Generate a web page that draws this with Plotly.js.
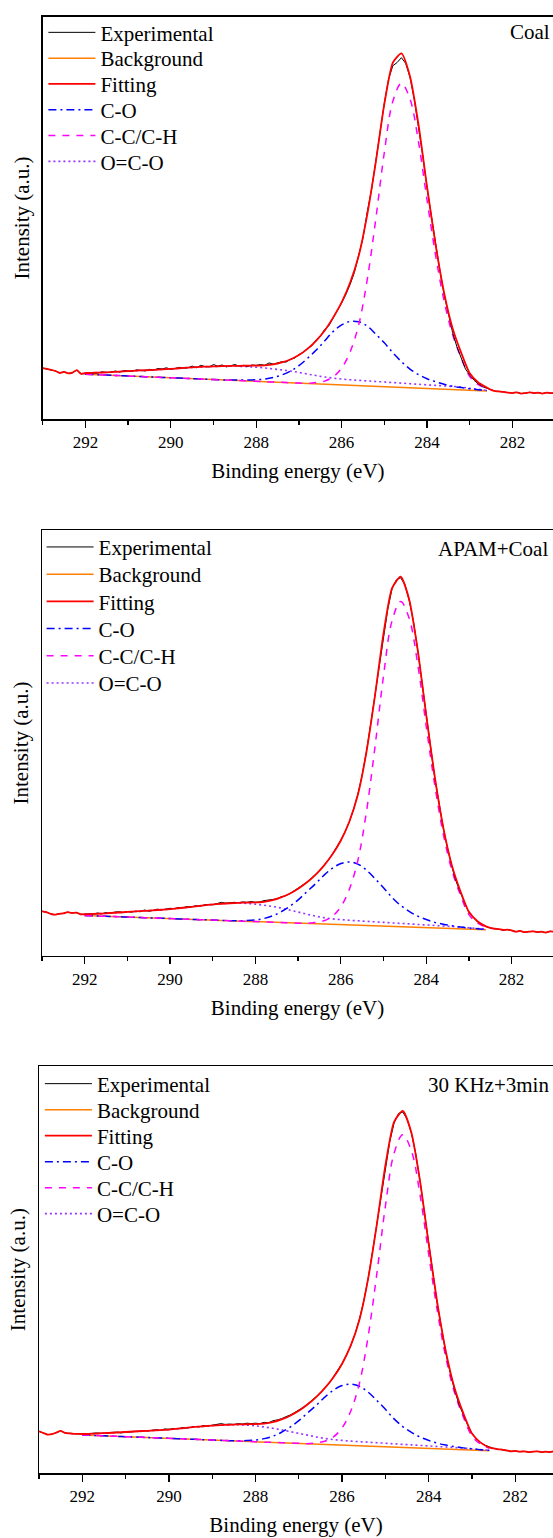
<!DOCTYPE html>
<html>
<head>
<meta charset="utf-8">
<script src="https://cdn.plot.ly/plotly-3.0.1.min.js"></script>
<style>html,body{margin:0;padding:0;background:#fff;overflow:hidden}#chart{width:553px;height:1538px}</style>
</head>
<body>
<div id="chart"></div>
<script>
// ---------- energy grids (binding energy, eV) ----------
function seq(a, b, step) {
  const n = Math.round(Math.abs(b - a) / step), s = b > a ? 1 : -1, out = [];
  for (let i = 0; i <= n; i++) out.push(+(a + s * i * step).toFixed(2));
  return out;
}
const energyExp = seq(293, 281, 0.1);
const energyComp = seq(292, 282.6, 0.2);
const energyFit = seq(293, 292.1, 0.1).concat(energyComp, seq(282.5, 281, 0.1));

const sampleLabels = ['Coal', 'APAM+Coal', '30 KHz+3min'];
const seriesNames = ['Experimental', 'Background', 'Fitting', 'C-O', 'C-C/C-H', 'O=C-O'];
const tickValues = [292, 290, 288, 286, 284, 282];

// ---------- Panel 1: Coal ----------
const coalExp = [12.7,12.5,12.3,12.0,11.5,11.8,11.4,11.6,12.2,11.3,
11.3,11.6,11.4,11.5,11.8,11.6,11.7,12.0,11.7,12.1,
12.0,11.9,12.3,12.1,12.0,12.4,12.2,12.6,12.5,12.8,
12.4,12.6,12.9,12.7,12.8,13.2,12.8,13.4,13.1,13.0,
13.6,13.2,13.5,13.0,13.3,13.6,13.2,13.4,13.1,13.5,
13.4,13.6,13.4,14.0,13.7,14.0,14.3,14.2,14.9,15.2,
16.1,16.6,17.6,18.2,19.7,20.6,22.3,23.2,25.0,27.0,
28.9,31.0,33.5,36.5,40.5,45.0,51.5,57.0,64.0,71.5,
78.5,84.5,87.8,88.6,89.8,88.4,85.0,79.5,73.0,65.5,
57.5,50.3,43.0,37.0,31.0,26.0,21.5,18.0,15.0,12.5,
11.0,9.7,8.8,8.1,7.7,7.3,7.0,6.9,6.8,6.6,
6.5,6.7,6.4,6.5,6.7,6.5,6.6,6.4,6.6,6.5,
6.5];
const coalFit = [12.7,12.5,12.3,12.0,11.5,11.8,11.4,11.6,12.2,11.3,
11.50,11.56,11.62,11.73,11.85,11.96,12.07,12.18,12.29,12.40,
12.52,12.68,12.84,12.95,13.06,13.12,13.18,13.28,13.29,13.31,
13.33,13.38,13.62,14.11,14.86,15.96,17.49,19.48,22.00,25.25,
29.03,33.96,40.61,50.84,63.88,78.28,88.57,90.88,85.21,73.22,
57.77,43.40,31.39,22.54,16.50,11.42,9.15,7.89,
7.3,7.0,6.9,6.8,6.6,6.5,6.7,6.4,6.5,6.7,6.5,6.6,6.4,6.6,6.5,6.5];
const coalBg = [11.20,11.11,11.02,10.93,10.85,10.76,10.67,10.58,10.49,10.40,
10.32,10.23,10.14,10.05,9.96,9.87,9.78,9.70,9.61,9.52,
9.43,9.34,9.25,9.17,9.08,8.99,8.90,8.81,8.72,8.64,
8.55,8.46,8.37,8.28,8.19,8.11,8.02,7.93,7.84,7.75,
7.66,7.57,7.49,7.40,7.31,7.22,7.13,7.04];
const coalOCO = [11.50,11.56,11.62,11.73,11.85,11.96,12.07,12.18,12.29,12.40,
12.52,12.68,12.84,12.95,13.06,13.12,13.18,13.20,13.16,13.07,
12.93,12.74,12.50,12.27,11.98,11.64,11.25,10.86,10.52,10.24,
10.00,9.81,9.67,9.53,9.39,9.26,9.12,8.98,8.84,8.70,
8.56,8.42,8.29,8.15,8.01,7.67,7.43,7.19];
const coalCO = [11.20,11.11,11.02,10.93,10.85,10.76,10.67,10.58,10.49,10.40,
10.32,10.23,10.14,10.05,9.96,9.87,9.78,9.78,9.74,9.76,
9.83,9.98,10.37,11.01,11.96,13.31,15.14,17.13,19.44,21.76,
23.43,24.30,24.21,23.16,21.15,18.99,16.50,14.33,12.48,11.11,
10.06,9.33,8.69,8.20,7.87,7.57,7.34,7.14];
const coalCC = [11.20,11.11,11.02,10.93,10.85,10.76,10.67,10.58,10.49,10.40,
10.32,10.23,10.14,10.05,9.96,9.87,9.78,9.70,9.61,9.52,
9.43,9.34,9.25,9.17,9.08,8.99,8.90,9.11,9.48,10.53,
12.70,16.77,23.47,34.71,49.72,66.25,78.99,83.43,79.57,68.91,
54.47,40.79,29.39,20.99,15.24,10.62,8.64,7.64];

// ---------- Panel 2: APAM+Coal ----------
const apamExp = [10.5,10.3,9.9,9.7,9.9,10.0,10.3,10.1,10.2,9.8,
9.8,9.9,9.8,10.1,9.9,10.2,10.0,10.3,10.4,10.2,
10.4,10.3,10.5,10.4,10.8,10.5,10.7,11.0,10.8,11.0,
11.2,11.1,11.4,11.3,11.6,11.5,11.8,11.7,12.0,12.1,
12.0,12.3,12.6,12.4,12.5,12.6,12.5,12.7,12.6,12.8,
12.6,12.7,13.0,13.1,13.3,13.4,13.9,14.1,14.6,15.3,
15.8,16.6,17.3,18.2,19.2,20.0,21.3,22.4,23.9,25.5,
27.2,29.2,31.5,34.5,38.0,42.5,48.0,54.5,61.3,68.7,
75.6,81.4,86.2,88.3,88.8,87.2,83.5,78.6,71.9,64.5,
56.3,49.0,41.8,36.0,30.0,25.3,21.0,17.5,14.8,12.4,
10.2,9.1,8.0,7.4,6.9,6.6,6.4,6.3,6.1,6.2,
6.0,5.7,5.9,5.6,5.7,5.8,5.6,5.7,5.5,5.8,
5.7];
const apamFit = [10.5,10.3,9.9,9.7,9.9,10.0,10.3,10.1,10.2,9.8,
9.80,9.88,9.96,10.09,10.21,10.34,10.47,10.60,10.73,10.86,
10.99,11.21,11.44,11.67,11.90,12.13,12.26,12.38,12.48,12.53,
12.58,12.71,13.11,13.77,14.63,15.79,17.24,19.00,21.16,23.80,
27.11,31.58,37.89,47.88,61.11,75.72,86.35,89.03,83.76,71.91,
56.55,42.09,30.14,21.33,15.26,10.37,8.17,6.96,
6.6,6.4,6.3,6.1,6.2,6.0,5.7,5.9,5.6,5.7,5.8,5.6,5.7,5.5,5.8,5.7];
const apamBg = [9.50,9.43,9.36,9.29,9.21,9.14,9.07,9.00,8.93,8.86,
8.79,8.71,8.64,8.57,8.50,8.43,8.36,8.28,8.21,8.14,
8.07,8.00,7.93,7.85,7.78,7.71,7.64,7.57,7.50,7.42,
7.35,7.28,7.21,7.14,7.07,7.00,6.92,6.85,6.78,6.71,
6.64,6.57,6.49,6.42,6.35,6.28,6.21,6.14];
const apamOCO = [9.80,9.88,9.96,10.09,10.21,10.34,10.47,10.60,10.73,10.86,
10.99,11.21,11.44,11.67,11.90,12.13,12.26,12.38,12.41,12.34,
12.17,11.90,11.63,11.25,10.78,10.31,9.84,9.37,9.00,8.72,
8.55,8.38,8.26,8.14,8.02,7.90,7.77,7.65,7.53,7.41,
7.29,7.17,7.04,6.92,6.80,6.63,6.46,6.26];
const apamCO = [9.50,9.43,9.36,9.29,9.21,9.14,9.07,9.00,8.93,8.86,
8.79,8.71,8.64,8.57,8.50,8.43,8.36,8.28,8.28,8.33,
8.48,8.81,9.41,10.37,11.63,13.19,15.04,16.89,18.90,20.59,
21.71,22.08,21.57,20.16,18.17,16.03,13.73,11.88,10.48,9.37,
8.56,7.90,7.45,7.09,6.79,6.58,6.39,6.23];
const apamCC = [9.50,9.43,9.36,9.29,9.21,9.14,9.07,9.00,8.93,8.86,
8.79,8.71,8.64,8.57,8.50,8.43,8.36,8.28,8.21,8.14,
8.07,8.00,7.93,7.85,7.78,7.71,7.64,7.88,8.26,9.33,
11.55,15.68,22.48,33.86,49.06,65.79,78.69,83.20,79.31,68.55,
53.98,40.16,28.63,20.16,14.37,9.72,7.74,6.75];

// ---------- Panel 3: 30 KHz+3min ----------
const khzExp = [10.3,9.9,9.5,9.6,10.0,10.4,9.9,9.8,9.7,9.7,
9.6,9.7,9.7,9.9,9.8,9.8,10.0,10.0,10.1,9.9,
10.2,10.1,10.3,10.3,10.5,10.4,10.6,10.7,10.5,10.9,
10.8,11.0,10.9,11.2,11.1,11.3,11.5,11.4,11.7,11.6,
11.8,11.9,12.2,12.0,12.1,12.0,12.2,12.1,12.3,12.2,
12.3,12.2,12.5,12.4,12.9,13.1,13.4,13.9,14.3,14.9,
15.5,16.2,17.0,17.9,18.9,19.7,21.0,22.1,23.7,25.2,
27.0,29.0,31.3,34.3,37.9,42.3,47.8,54.3,61.2,68.7,
75.5,81.4,86.0,88.3,88.7,87.0,83.5,78.5,71.7,64.3,
56.0,48.7,41.4,35.4,29.3,24.5,20.3,16.9,14.1,11.8,
9.6,8.5,7.5,6.9,6.4,6.1,5.9,5.8,5.6,5.4,
5.5,5.3,5.4,5.2,5.3,5.4,5.2,5.3,5.2,5.4,
5.3];
const khzFit = [10.3,9.9,9.5,9.6,10.0,10.4,9.9,9.8,9.7,9.7,
9.65,9.72,9.79,9.90,10.02,10.14,10.26,10.38,10.49,10.61,
10.73,10.95,11.16,11.38,11.55,11.72,11.84,11.90,11.99,12.04,
12.08,12.21,12.55,13.22,14.14,15.37,16.90,18.72,20.91,23.58,
26.91,31.39,37.72,47.74,61.01,75.65,86.30,88.97,83.64,71.72,
56.26,41.70,29.68,20.81,14.70,9.76,7.53,6.34,
6.1,5.9,5.8,5.6,5.4,5.5,5.3,5.4,5.2,5.3,5.4,5.2,5.3,5.2,5.4,5.3];
const khzBg = [9.40,9.32,9.24,9.15,9.07,8.99,8.91,8.83,8.74,8.66,
8.58,8.50,8.41,8.33,8.25,8.17,8.09,8.00,7.92,7.84,
7.76,7.68,7.59,7.51,7.43,7.35,7.27,7.18,7.10,7.02,
6.94,6.85,6.77,6.69,6.61,6.53,6.44,6.36,6.28,6.20,
6.12,6.03,5.95,5.87,5.79,5.71,5.62,5.54];
const khzOCO = [9.65,9.72,9.79,9.90,10.02,10.14,10.26,10.38,10.49,10.61,
10.73,10.95,11.16,11.38,11.55,11.72,11.84,11.90,11.92,11.84,
11.66,11.38,11.04,10.66,10.23,9.80,9.37,8.93,8.55,8.27,
8.09,7.90,7.77,7.64,7.51,7.38,7.24,7.11,6.98,6.85,
6.72,6.58,6.45,6.32,6.19,6.01,5.82,5.64];
const khzCO = [9.40,9.32,9.24,9.15,9.07,8.99,8.91,8.83,8.74,8.66,
8.58,8.50,8.41,8.33,8.25,8.17,8.09,8.00,7.99,8.04,
8.18,8.51,9.10,10.07,11.34,12.92,14.80,16.66,18.69,20.41,
21.54,21.90,21.37,19.93,17.90,15.71,13.36,11.48,10.04,8.91,
8.08,7.38,6.93,6.55,6.24,6.01,5.80,5.63];
const khzCC = [9.40,9.32,9.24,9.15,9.07,8.99,8.91,8.83,8.74,8.66,
8.58,8.50,8.41,8.33,8.25,8.17,8.09,8.00,7.92,7.84,
7.76,7.68,7.59,7.51,7.43,7.35,7.27,7.49,7.87,8.94,
11.16,15.29,22.12,33.55,48.82,65.62,78.58,83.10,79.18,68.36,
53.70,39.80,28.20,19.68,13.85,9.16,7.15,6.15];

// ---------- figure ----------
const FONT = '"Liberation Serif", "Times New Roman", serif';
const W = 553, H = 1538;
const panels = [
  {xa:'x',  ya:'y',  exp:coalExp, fit:coalFit, bg:coalBg, co:coalCO, cc:coalCC, oco:coalOCO,
   legX:43.4, rows:[32.7, 58.5, 84.3, 110.1, 135.9, 161.7]},
  {xa:'x2', ya:'y2', exp:apamExp, fit:apamFit, bg:apamBg, co:apamCO, cc:apamCC, oco:apamOCO,
   legX:41.6, rows:[547.3, 574.5, 601.7, 628.9, 656.1, 683.3]},
  {xa:'x3', ya:'y3', exp:khzExp,  fit:khzFit,  bg:khzBg,  co:khzCO,  cc:khzCC,  oco:khzOCO,
   legX:39.9, rows:[1084, 1110, 1136, 1162, 1188, 1214]}
];
const layout = {
  width:W, height:H, margin:{l:0, r:0, t:0, b:0}, paper_bgcolor:'#fff', plot_bgcolor:'#fff',
  showlegend:true, annotations:[]
};
function legendName(n) { return n === 1 ? 'legend' : 'legend' + n; }

const traces = [];
panels.forEach((p, pi) => {
  const lg = row => legendName(pi * 6 + row + 1);
  const base = {type:'scatter', mode:'lines', xaxis:p.xa, yaxis:p.ya, hoverinfo:'skip'};
  traces.push(Object.assign({}, base, {name:seriesNames[1], legend:lg(1), x:energyComp, y:p.bg,
    line:{color:'#ff7f00', width:1.5}}));
  traces.push(Object.assign({}, base, {name:seriesNames[5], legend:lg(5), x:energyComp, y:p.oco,
    line:{color:'#9933ff', width:1.6, dash:'2px,3px', shape:'spline'}}));
  traces.push(Object.assign({}, base, {name:seriesNames[3], legend:lg(3), x:energyComp, y:p.co,
    line:{color:'#0000ff', width:1.5, dash:'8px,4px,2px,4px', shape:'spline'}}));
  traces.push(Object.assign({}, base, {name:seriesNames[4], legend:lg(4), x:energyComp, y:p.cc,
    line:{color:'#ff00ff', width:1.5, dash:'7px,7px', shape:'spline'}}));
  traces.push(Object.assign({}, base, {name:seriesNames[0], legend:lg(0), x:energyExp, y:p.exp,
    line:{color:'#000000', width:1}}));
  traces.push(Object.assign({}, base, {name:seriesNames[2], legend:lg(2), x:energyFit, y:p.fit,
    line:{color:'#ff0000', width:1.8, shape:'spline', smoothing:0.6}}));
  p.rows.forEach((yc, r) => {
    layout[lg(r)] = {x:p.legX / W, y:1 - yc / H, xanchor:'left', yanchor:'middle',
      bgcolor:'rgba(0,0,0,0)', borderwidth:0, font:{family:FONT, size:21, color:'#000'},
      itemwidth:47, tracegroupgap:0};
  });
});

function xAxis(domain, end, anchor) {
  return {domain:domain, range:[293, end], anchor:anchor, autorange:false,
    showline:true, linecolor:'#000', linewidth:1.3, mirror:true,
    showgrid:false, zeroline:false,
    ticks:'outside', ticklen:7, tickwidth:1.3, tickcolor:'#000',
    tickvals:tickValues, ticktext:tickValues.map(String),
    tickfont:{family:FONT, size:17, color:'#000'},
    minor:{dtick:1, tick0:0, ticks:'outside', ticklen:4, tickwidth:1.3, tickcolor:'#000', showgrid:false},
    title:{text:'Binding energy (eV)', font:{family:FONT, size:21, color:'#000'}, standoff:12}};
}
function yAxis(domain, anchor) {
  return {domain:domain, range:[0, 100], anchor:anchor, autorange:false,
    showline:true, linecolor:'#000', linewidth:1.3, mirror:false,
    showgrid:false, zeroline:false, ticks:'', showticklabels:false,
    title:{text:'Intensity (a.u.)', font:{family:FONT, size:21, color:'#000'}, standoff:6}};
}
layout.xaxis  = xAxis([42.7/W, 1], 281.05, 'y');
layout.xaxis2 = xAxis([42/W, 1], 281.03, 'y2');
layout.xaxis3 = xAxis([39/W, 1], 281.13, 'y3');
layout.yaxis  = yAxis([1-419.3/H, 1-16.6/H], 'x');
layout.yaxis2 = yAxis([1-956/H, 1-530/H], 'x2');
layout.yaxis3 = yAxis([1-1473.3/H, 1-1066/H], 'x3');
const labelPos = [[552, 32], [550, 549], [551, 1085]];
sampleLabels.forEach((t, i) => {
  layout.annotations.push({text:t, xref:'paper', yref:'paper', x:labelPos[i][0]/W, y:1-labelPos[i][1]/H,
    xanchor:'right', yanchor:'middle', showarrow:false, font:{family:FONT, size:21, color:'#000'}});
});
Plotly.newPlot('chart', traces, layout, {displayModeBar:false, staticPlot:true});
</script>
</body>
</html>
